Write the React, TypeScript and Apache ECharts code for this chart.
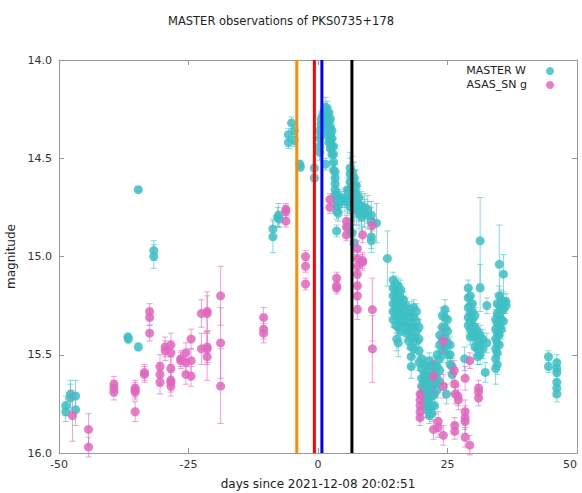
import React, { useEffect, useRef } from "react";
import * as echarts from "echarts";

// ---- Data: [days since 2021-12-08 20:02:51, magnitude, error] ----
const masterEarly = [
  [-48.7, 15.76, 0.05], [-48.7, 15.79, 0.05], [-47.8, 15.70, 0.07], [-47.8, 15.72, 0.07],
  [-46.8, 15.71, 0.08], [-46.8, 15.78, 0.08], [-36.7, 15.41, 0.02], [-36.6, 15.42, 0.02],
  [-34.7, 14.66, 0.01], [-34.7, 15.46, 0.02], [-31.7, 14.97, 0.05], [-31.7, 15.0, 0.06],
  [-8.7, 14.86, 0.05], [-8.7, 14.9, 0.08], [-7.8, 14.8, 0.05], [-7.6, 14.79, 0.06], [-7.5, 14.81, 0.04],
  [-5.7, 14.38, 0.03], [-5.7, 14.42, 0.03], [-5.1, 14.32, 0.03], [-4.6, 14.36, 0.03], [-4.6, 14.41, 0.03],
  [-3.5, 14.53, 0.02], [-3.4, 14.545, 0.02], [-0.7, 14.55, 0.02], [-0.7, 14.6, 0.02],
];

const masterFlare = [
  [0.3, 14.36, 0.04], [0.3, 14.4, 0.04], [0.3, 14.44, 0.04], [0.3, 14.47, 0.04],
  [0.6, 14.3, 0.04], [0.6, 14.33, 0.04], [0.6, 14.38, 0.04],
  [0.9, 14.28, 0.04], [0.9, 14.31, 0.04], [0.9, 14.35, 0.04],
  [1.2, 14.26, 0.04], [1.2, 14.29, 0.04], [1.2, 14.33, 0.04],
  [1.5, 14.24, 0.05], [1.5, 14.27, 0.04], [1.5, 14.3, 0.04], [1.5, 14.34, 0.04], [1.5, 14.53, 0.03],
  [1.8, 14.25, 0.04], [1.8, 14.28, 0.04], [1.8, 14.32, 0.04], [1.8, 14.36, 0.04],
  [2.1, 14.27, 0.04], [2.1, 14.31, 0.04], [2.1, 14.35, 0.04], [2.1, 14.39, 0.04], [2.1, 14.42, 0.04],
  [2.4, 14.3, 0.04], [2.4, 14.34, 0.04], [2.4, 14.38, 0.04], [2.4, 14.42, 0.04], [2.4, 14.45, 0.04],
  [2.7, 14.36, 0.04], [2.7, 14.4, 0.04], [2.7, 14.44, 0.04], [2.7, 14.48, 0.04],
  [3.0, 14.44, 0.04], [3.0, 14.48, 0.04], [3.0, 14.52, 0.04], [3.0, 14.56, 0.04],
  [3.3, 14.57, 0.04], [3.3, 14.6, 0.04], [3.3, 14.63, 0.04], [3.3, 14.66, 0.04], [3.3, 14.69, 0.04],
  [3.6, 14.68, 0.04], [3.6, 14.71, 0.04], [3.6, 14.74, 0.04], [3.6, 14.77, 0.04], [3.6, 14.87, 0.03],
  [3.9, 14.74, 0.04], [3.9, 14.78, 0.04], [4.2, 14.7, 0.04], [4.2, 14.72, 0.04], [4.7, 14.71, 0.04],
  [5.2, 14.7, 0.05], [5.2, 14.72, 0.05], [5.7, 14.66, 0.06], [5.7, 14.72, 0.06], [5.7, 14.85, 0.04],
  [6.2, 14.55, 0.08], [6.2, 14.58, 0.08], [6.2, 14.62, 0.08], [6.2, 14.66, 0.08], [6.2, 14.7, 0.08], [6.2, 14.75, 0.08],
  [6.6, 14.57, 0.08], [6.6, 14.6, 0.08], [6.6, 14.64, 0.08], [6.6, 14.68, 0.08], [6.6, 14.73, 0.08], [6.6, 14.88, 0.06],
  [7.0, 14.6, 0.08], [7.0, 14.64, 0.08], [7.0, 14.68, 0.08], [7.0, 14.72, 0.08], [7.0, 14.76, 0.08], [7.0, 14.93, 0.06],
  [7.4, 14.64, 0.08], [7.4, 14.68, 0.08], [7.4, 14.72, 0.08], [7.4, 14.76, 0.08],
  [7.9, 14.7, 0.08], [7.9, 14.74, 0.08], [7.9, 14.78, 0.08],
  [8.4, 14.74, 0.07], [8.4, 14.77, 0.07], [8.4, 14.8, 0.07],
  [9.0, 14.75, 0.07], [9.0, 14.78, 0.07], [9.6, 14.76, 0.07], [9.6, 14.79, 0.07],
  [10.3, 14.79, 0.07], [10.3, 14.82, 0.07], [10.3, 14.9, 0.06], [10.3, 14.92, 0.06],
  [11.3, 14.83, 0.1], [13.4, 15.01, 0.14],
];

const masterDip = [
  [14.5, 15.12, 0.04], [14.5, 15.16, 0.04], [14.5, 15.2, 0.04], [14.5, 15.24, 0.04], [14.5, 15.28, 0.04], [14.5, 15.32, 0.04],
  [15.0, 15.14, 0.04], [15.0, 15.18, 0.04], [15.0, 15.22, 0.04], [15.0, 15.26, 0.04], [15.0, 15.3, 0.04], [15.0, 15.35, 0.04], [15.2, 15.42, 0.06],
  [15.5, 15.15, 0.04], [15.5, 15.19, 0.04], [15.5, 15.23, 0.04], [15.5, 15.27, 0.04], [15.5, 15.31, 0.04], [15.5, 15.36, 0.04], [15.5, 15.44, 0.07],
  [16.0, 15.17, 0.05], [16.0, 15.21, 0.04], [16.0, 15.25, 0.04], [16.0, 15.29, 0.04], [16.0, 15.33, 0.04], [16.0, 15.38, 0.04],
  [16.5, 15.22, 0.04], [16.5, 15.26, 0.04], [16.5, 15.3, 0.04], [16.5, 15.34, 0.04],
  [17.0, 15.25, 0.04], [17.0, 15.3, 0.04], [17.0, 15.35, 0.04], [17.0, 15.39, 0.04],
  [17.5, 15.29, 0.04], [17.5, 15.33, 0.04], [17.5, 15.38, 0.04], [17.5, 15.43, 0.04],
  [18.0, 15.27, 0.04], [18.0, 15.31, 0.04], [18.0, 15.36, 0.04], [18.0, 15.41, 0.04], [18.0, 15.46, 0.04], [18.0, 15.51, 0.05], [18.0, 15.56, 0.06],
  [18.5, 15.26, 0.04], [18.5, 15.31, 0.04], [18.5, 15.36, 0.04], [18.5, 15.41, 0.04], [18.5, 15.47, 0.04],
  [19.0, 15.28, 0.04], [19.0, 15.33, 0.04], [19.0, 15.38, 0.04], [19.0, 15.43, 0.04],
  [19.5, 15.36, 0.04], [19.5, 15.42, 0.04], [19.5, 15.48, 0.04], [19.5, 15.54, 0.04],
  [20.0, 15.52, 0.04], [20.0, 15.57, 0.04], [20.0, 15.62, 0.04], [20.0, 15.66, 0.04], [20.0, 15.7, 0.04],
  [20.5, 15.55, 0.04], [20.5, 15.6, 0.04], [20.5, 15.64, 0.04], [20.5, 15.68, 0.04], [20.5, 15.72, 0.04], [20.5, 15.76, 0.04],
  [21.0, 15.56, 0.04], [21.0, 15.61, 0.04], [21.0, 15.65, 0.04], [21.0, 15.7, 0.04], [21.0, 15.74, 0.04], [21.0, 15.78, 0.04],
  [21.5, 15.53, 0.04], [21.5, 15.58, 0.04], [21.5, 15.63, 0.04], [21.5, 15.68, 0.04], [21.5, 15.72, 0.04], [21.5, 15.77, 0.04], [21.5, 15.81, 0.04],
  [22.0, 15.56, 0.04], [22.0, 15.61, 0.04], [22.0, 15.66, 0.04], [22.0, 15.71, 0.04], [22.0, 15.76, 0.04], [22.0, 15.8, 0.04],
  [22.5, 15.55, 0.04], [22.5, 15.6, 0.04], [22.5, 15.65, 0.04], [22.5, 15.7, 0.04], [22.5, 15.76, 0.04],
  [23.0, 15.5, 0.04], [23.0, 15.56, 0.04], [23.0, 15.62, 0.04], [23.0, 15.68, 0.04],
  [23.5, 15.4, 0.04], [23.5, 15.45, 0.04], [23.5, 15.52, 0.04], [23.5, 15.58, 0.04], [23.5, 15.64, 0.04],
  [24.0, 15.3, 0.04], [24.0, 15.36, 0.04], [24.0, 15.42, 0.04], [24.0, 15.48, 0.04],
  [24.5, 15.27, 0.05], [24.5, 15.31, 0.04], [24.5, 15.36, 0.04], [24.5, 15.41, 0.04], [24.5, 15.46, 0.04],
  [25.0, 15.32, 0.04], [25.0, 15.38, 0.04], [25.0, 15.44, 0.04], [25.0, 15.5, 0.04], [24.8, 15.7, 0.05],
  [25.5, 15.45, 0.04], [25.5, 15.5, 0.04], [25.5, 15.55, 0.04], [25.9, 15.56, 0.04], [25.9, 15.6, 0.04],
];

const masterLate = [
  [28.3, 15.52, 0.06],
  [29.0, 15.16, 0.04], [29.0, 15.21, 0.04], [29.0, 15.26, 0.04], [29.0, 15.31, 0.04], [29.0, 15.35, 0.04],
  [29.4, 15.2, 0.04], [29.4, 15.25, 0.04], [29.4, 15.29, 0.04], [29.4, 15.33, 0.04], [29.4, 15.37, 0.04], [29.4, 15.41, 0.04],
  [29.8, 15.24, 0.04], [29.8, 15.28, 0.04], [29.8, 15.32, 0.04], [29.8, 15.36, 0.04], [29.8, 15.4, 0.04],
  [30.3, 15.3, 0.04], [30.3, 15.36, 0.04], [30.3, 15.41, 0.04], [30.3, 15.46, 0.04],
  [30.8, 15.38, 0.04], [30.8, 15.43, 0.04], [30.8, 15.47, 0.04], [30.8, 15.51, 0.04],
  [31.3, 14.92, 0.22], [31.3, 15.16, 0.12], [31.3, 15.4, 0.05], [31.3, 15.45, 0.05], [31.3, 15.5, 0.05],
  [31.8, 15.42, 0.05], [31.8, 15.47, 0.05], [32.3, 15.59, 0.05], [32.6, 15.25, 0.04], [32.6, 15.44, 0.05],
  [34.3, 15.32, 0.05], [34.3, 15.37, 0.05], [34.3, 15.42, 0.05], [34.3, 15.47, 0.05], [34.3, 15.52, 0.05], [34.3, 15.57, 0.08],
  [34.6, 15.24, 0.05], [34.6, 15.29, 0.05], [34.6, 15.34, 0.05], [34.6, 15.39, 0.05], [34.6, 15.44, 0.05], [34.6, 15.49, 0.05], [34.6, 15.55, 0.05],
  [35.0, 15.04, 0.2], [35.0, 15.2, 0.05], [35.0, 15.25, 0.05], [35.0, 15.3, 0.05], [35.0, 15.35, 0.05], [35.0, 15.4, 0.05], [35.0, 15.45, 0.05],
  [35.4, 15.22, 0.05], [35.4, 15.27, 0.05], [35.4, 15.32, 0.05], [35.4, 15.37, 0.05],
  [35.8, 15.09, 0.1], [35.8, 15.23, 0.05], [35.8, 15.27, 0.05], [35.8, 15.33, 0.05],
  [36.3, 15.23, 0.04], [36.3, 15.25, 0.04],
  [44.5, 15.51, 0.03], [44.5, 15.56, 0.03],
  [46.1, 15.54, 0.04], [46.1, 15.57, 0.04], [46.1, 15.59, 0.04], [46.1, 15.64, 0.04], [46.1, 15.67, 0.04], [46.1, 15.7, 0.04],
];

const asasEarly = [
  [-47.4, 15.81, 0.13], [-44.3, 15.88, 0.08], [-44.3, 15.97, 0.05],
  [-39.4, 15.65, 0.04], [-39.4, 15.67, 0.04], [-39.4, 15.69, 0.04],
  [-35.3, 15.67, 0.04], [-35.3, 15.68, 0.04], [-35.3, 15.69, 0.04], [-35.3, 15.79, 0.05],
  [-33.5, 15.59, 0.04], [-33.5, 15.6, 0.04],
  [-32.5, 15.28, 0.04], [-32.5, 15.31, 0.04], [-32.5, 15.39, 0.04],
  [-30.5, 15.56, 0.06], [-30.5, 15.6, 0.06], [-30.5, 15.64, 0.06],
  [-29.5, 15.46, 0.05], [-29.5, 15.48, 0.05],
  [-28.4, 15.45, 0.06], [-28.4, 15.49, 0.06], [-28.4, 15.57, 0.06], [-28.4, 15.63, 0.05], [-28.4, 15.64, 0.05], [-28.4, 15.66, 0.05],
  [-26.5, 15.52, 0.04], [-26.5, 15.53, 0.04],
  [-25.5, 15.49, 0.05], [-25.5, 15.54, 0.05], [-25.5, 15.6, 0.05],
  [-24.5, 15.42, 0.05], [-24.5, 15.53, 0.06], [-24.5, 15.61, 0.05],
  [-22.5, 15.29, 0.07], [-22.5, 15.47, 0.08],
  [-21.4, 15.28, 0.1], [-21.4, 15.29, 0.09], [-21.4, 15.46, 0.08], [-21.4, 15.47, 0.08], [-21.4, 15.51, 0.12],
  [-18.8, 15.2, 0.15], [-18.8, 15.44, 0.18], [-18.8, 15.66, 0.19],
  [-10.5, 15.31, 0.05], [-10.5, 15.37, 0.05], [-10.5, 15.39, 0.05],
  [-6.2, 14.76, 0.03], [-6.2, 14.77, 0.03], [-6.2, 14.82, 0.03],
];

const asasLate = [
  [-2.4, 15.0, 0.03], [-2.4, 15.05, 0.03], [-2.4, 15.14, 0.03],
  [2.3, 14.71, 0.03], [2.3, 14.75, 0.03],
  [3.6, 15.11, 0.03], [3.6, 15.15, 0.03], [3.6, 15.16, 0.03],
  [5.5, 14.82, 0.03], [5.5, 14.85, 0.03], [5.5, 14.89, 0.03],
  [7.6, 14.96, 0.04], [7.6, 15.01, 0.04], [7.6, 15.05, 0.04], [7.6, 15.09, 0.04], [7.6, 15.15, 0.04], [7.6, 15.2, 0.05], [7.6, 15.27, 0.05],
  [8.6, 14.89, 0.04], [8.6, 15.02, 0.04], [8.6, 15.03, 0.04],
  [10.5, 14.84, 0.03], [10.5, 15.27, 0.16], [10.5, 15.47, 0.17],
  [19.7, 15.7, 0.04], [19.7, 15.73, 0.04], [19.7, 15.76, 0.04], [19.7, 15.79, 0.04], [19.7, 15.82, 0.04],
  [22.3, 15.61, 0.08], [22.3, 15.88, 0.05], [23.2, 15.84, 0.05], [23.2, 15.87, 0.05],
  [24.2, 15.43, 0.06], [24.2, 15.66, 0.06], [24.2, 15.91, 0.05],
  [26.3, 15.58, 0.05], [26.4, 15.65, 0.05], [26.5, 15.7, 0.05], [27.0, 15.71, 0.05], [27.1, 15.73, 0.05],
  [26.4, 15.86, 0.04], [26.4, 15.89, 0.04],
  [28.4, 15.62, 0.06], [28.4, 15.79, 0.06], [28.4, 15.82, 0.06], [28.4, 15.84, 0.06], [28.4, 15.92, 0.05],
  [29.3, 15.53, 0.04], [29.3, 15.96, 0.05],
  [31.0, 15.67, 0.04], [31.0, 15.69, 0.04], [31.0, 15.72, 0.04],
];

const eventDays = [-4.1, -0.7, 0.75, 6.55];
const eventColors = ["#ff8c00", "#ff0000", "#0000ff", "#000000"];

const xTicks = { min: -50, max: 50, step: 25 };
const yTicks = { min: 14, max: 16, step: 0.5 };

const TEAL = "#3dbfc4";
const PINK = "#e066bd";
const FONT = "DejaVu Sans";

const masterAll = [...masterEarly, ...masterFlare, ...masterDip, ...masterLate];
const asasAll = [...asasEarly, ...asasLate];

function errorBars(name: string, data: number[][], color: string, z: number) {
  return {
    type: "custom",
    name,
    xAxisIndex: 0,
    yAxisIndex: 0,
    z,
    silent: true,
    data: data.map((d) => [d[0], d[1], d[2]]),
    encode: { x: 0, y: 1 },
    renderItem: (_params: any, api: any) => {
      const x = api.value(0);
      const m = api.value(1);
      const e = api.value(2);
      const a = api.coord([x, m - e]);
      const b = api.coord([x, m + e]);
      const hw = 3;
      const style = { stroke: color, lineWidth: 1, opacity: 0.6 };
      return {
        type: "group",
        children: [
          { type: "line", shape: { x1: a[0], y1: a[1], x2: b[0], y2: b[1] }, style },
          { type: "line", shape: { x1: a[0] - hw, y1: a[1], x2: a[0] + hw, y2: a[1] }, style },
          { type: "line", shape: { x1: b[0] - hw, y1: b[1], x2: b[0] + hw, y2: b[1] }, style },
        ],
      };
    },
  };
}

function points(name: string, data: number[][], color: string, z: number) {
  return {
    type: "scatter",
    name,
    z,
    symbol: "circle",
    symbolSize: 9,
    data: data.map((d) => [d[0], d[1]]),
    itemStyle: { color, opacity: 0.85 },
  };
}

export default function App() {
  const ref = useRef<HTMLDivElement>(null);
  useEffect(() => {
    if (!ref.current) return;
    const chart = echarts.init(ref.current, undefined, { renderer: "svg" });
    const axisColor = "#999";
    const baseX = {
      type: "value",
      min: xTicks.min,
      max: xTicks.max,
      interval: xTicks.step,
      splitLine: { show: false },
      axisLine: { show: true, onZero: false, lineStyle: { color: axisColor } },
      axisTick: { show: true, inside: true, length: 5, lineStyle: { color: axisColor } },
    };
    const baseY = {
      type: "value",
      inverse: true,
      min: yTicks.min,
      max: yTicks.max,
      interval: yTicks.step,
      splitLine: { show: false },
      axisLine: { show: true, onZero: false, lineStyle: { color: axisColor } },
      axisTick: { show: true, inside: true, length: 5, lineStyle: { color: axisColor } },
    };
    chart.setOption({
      animation: false,
      backgroundColor: "#ffffff",
      textStyle: { fontFamily: FONT },
      title: {
        text: "MASTER observations of PKS0735+178",
        left: 163,
        top: 10,
        textStyle: { fontFamily: FONT, fontSize: 11.5, fontWeight: "normal", color: "#222" },
      },
      grid: {
        left: 59,
        right: 5,
        top: 60,
        bottom: 40,
        containLabel: false,
        outerBoundsMode: "none",
      },
      xAxis: [
        {
          ...baseX,
          position: "bottom",
          name: "days since 2021-12-08 20:02:51",
          nameLocation: "middle",
          nameGap: 25,
          nameTextStyle: { fontFamily: FONT, fontSize: 12, color: "#222" },
          axisLabel: {
            show: true,
            color: "#333",
            fontFamily: FONT,
            fontSize: 11,
            margin: 6,
            alignMaxLabel: "right",
          },
        },
        { ...baseX, position: "top", axisLabel: { show: false } },
      ],
      yAxis: [
        {
          ...baseY,
          position: "left",
          name: "magnitude",
          nameLocation: "middle",
          nameGap: 38,
          nameTextStyle: { fontFamily: FONT, fontSize: 12, color: "#222" },
          axisLabel: {
            show: true,
            color: "#333",
            fontFamily: FONT,
            fontSize: 11,
            margin: 7,
            formatter: (v: number) => v.toFixed(1),
          },
        },
        { ...baseY, position: "right", axisLabel: { show: false } },
      ],
      series: [
        errorBars("MASTER W err", masterAll, TEAL, 1),
        points("MASTER W", masterAll, TEAL, 2),
        errorBars("ASAS_SN g err", asasAll, PINK, 3),
        points("ASAS_SN g", asasAll, PINK, 4),
        {
          type: "custom",
          name: "events",
          z: 6,
          silent: true,
          data: eventDays.map((d, i) => [d, i]),
          encode: { x: 0 },
          renderItem: (_params: any, api: any) => {
            const d = api.value(0);
            const i = api.value(1);
            const a = api.coord([d, yTicks.min]);
            const b = api.coord([d, yTicks.max]);
            return {
              type: "line",
              shape: { x1: a[0], y1: a[1], x2: b[0], y2: b[1] },
              style: { stroke: eventColors[i], lineWidth: 3 },
            };
          },
        },
      ],
      graphic: [
        {
          type: "text",
          right: 582 - 526,
          top: 65,
          style: { text: "MASTER W", font: `11px "${FONT}"`, fill: "#222" },
        },
        {
          type: "text",
          right: 582 - 527,
          top: 79,
          style: { text: "ASAS_SN g", font: `11px "${FONT}"`, fill: "#222" },
        },
        { type: "circle", shape: { cx: 550, cy: 71, r: 4 }, style: { fill: TEAL, opacity: 0.85 } },
        { type: "circle", shape: { cx: 550, cy: 85, r: 4 }, style: { fill: PINK, opacity: 0.85 } },
      ],
    });
    return () => chart.dispose();
  }, []);
  return (
    <div
      ref={ref}
      style={{ position: "absolute", left: 0, top: 0, width: 582, height: 493, background: "#fff" }}
    />
  );
}
